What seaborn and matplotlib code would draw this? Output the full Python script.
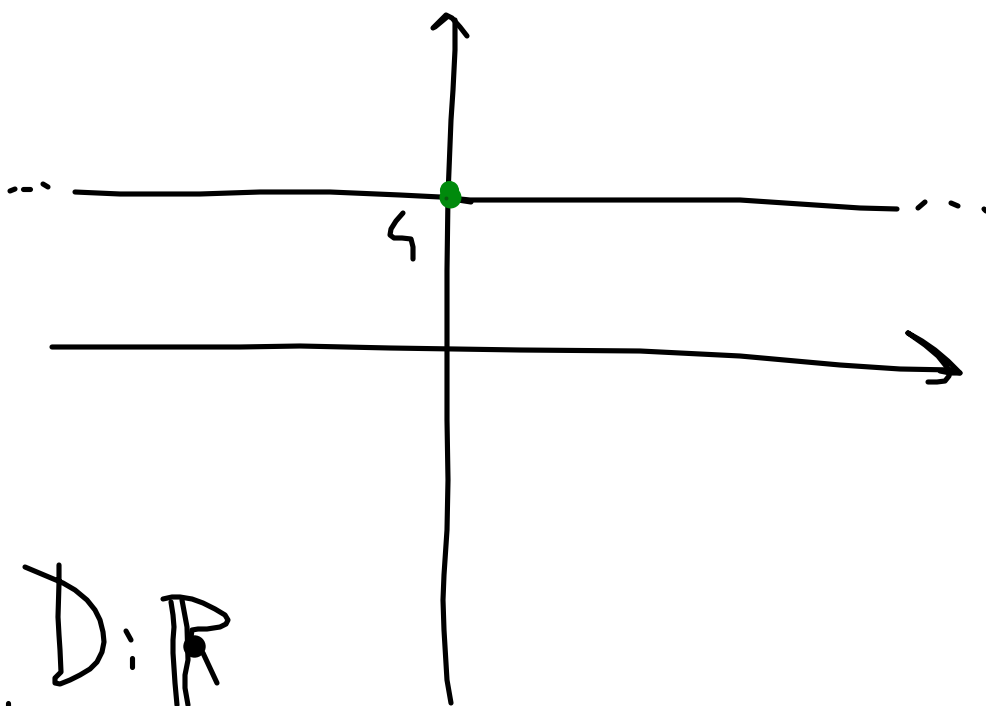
import matplotlib
matplotlib.use("Agg")
from matplotlib import pyplot as plt
import seaborn as sns

sns.set_theme(style="white")

# strokes, in picture coordinates
y_axis_x = [451, 447, 444, 443, 444, 447, 448, 447, 447, 447, 448, 451, 453, 455, 455]
y_axis_y = [703, 680, 630, 600, 575, 530, 480, 420, 350, 270, 195, 120, 90, 50, 20]
y_head_x = [433, 446, 452, 460, 467]
y_head_y = [28, 15, 18, 27, 36]
y_head_thick_x = [435, 447]
y_head_thick_y = [27, 17]

upper_x = [75, 120, 200, 260, 330, 400, 440, 470, 560, 740, 800, 860, 897]
upper_y = [192, 194, 194, 192, 192, 195, 197, 200, 200, 200, 204, 208, 209]
stub_x = [445, 458, 471]
stub_y = [197, 200, 202]

lower_x = [52, 150, 240, 300, 390, 520, 640, 740, 840, 900, 953]
lower_y = [347, 347, 347, 346, 348, 350, 351, 356, 365, 369, 370]
x_head_x = [908, 922, 935, 948, 960, 950, 938, 925, 908]
x_head_y = [333, 341, 350, 361, 373, 371, 356, 345, 333]
x_tail_x = [950, 949, 945, 937, 928]
x_tail_y = [370, 376, 381, 382, 382]
x_tail2_x = [940, 950, 960]
x_tail2_y = [371, 373, 373]

dots_left_x = [[10, 15], [23, 30], [43, 48]]
dots_left_y = [[191, 189], [189, 189], [184, 187]]
dots_right_x = [[918, 925], [951, 958], [984, 986]]
dots_right_y = [[208, 202], [203, 206], [209, 211]]

four_x = [403, 396, 391, 390, 394, 402, 411, 413, 413]
four_y = [213, 221, 229, 235, 238, 238, 239, 247, 259]

d_x = [59, 59, 58, 59, 60, 61, 55, 55, 60, 70, 80, 90, 97, 102, 104, 103, 100, 95, 87, 75, 63, 25]
d_y = [565, 583, 617, 635, 650, 672, 678, 683, 684, 680, 675, 669, 662, 652, 642, 632, 620, 610, 600, 590, 583, 567]
colon_x = [[126, 131], [132, 132]]
colon_y = [[631, 640], [658, 667]]

r_left_x = [171, 173, 174, 173, 173, 175, 177]
r_left_y = [602, 615, 627, 640, 653, 683, 705]
r_mid_x = [182, 187, 188, 185, 185, 188]
r_mid_y = [600, 627, 660, 675, 688, 705]
r_top_x = [163, 172, 180, 192, 203, 215, 225, 228, 226, 220, 207, 198, 192, 191]
r_top_y = [599, 597, 597, 599, 603, 609, 615, 620, 624, 627, 629, 629, 630, 637]
r_leg_x = [203, 217]
r_leg_y = [653, 683]
r_blob_x = [194]
r_blob_y = [646]

corner_x = [8, 8]
corner_y = [703, 706]

green_top_x = [449]
green_top_y = [190]
green_low_x = [449.5]
green_low_y = [196.5]
green_core_x = [446]
green_core_y = [198]

strokes = [
    (y_axis_x, y_axis_y), (y_head_x, y_head_y), (y_head_thick_x, y_head_thick_y),
    (upper_x, upper_y), (stub_x, stub_y),
    (lower_x, lower_y), (x_head_x, x_head_y), (x_tail_x, x_tail_y), (x_tail2_x, x_tail2_y),
    (four_x, four_y), (d_x, d_y),
    (r_left_x, r_left_y), (r_mid_x, r_mid_y), (r_top_x, r_top_y), (r_leg_x, r_leg_y),
    (corner_x, corner_y),
]
for xs, ys in zip(dots_left_x + dots_right_x + colon_x, dots_left_y + dots_right_y + colon_y):
    strokes.append((xs, ys))

fig = plt.figure(figsize=(9.86, 7.06), dpi=100)
ax = fig.add_axes([0, 0, 1, 1])

for xs, ys in strokes:
    sns.lineplot(x=xs, y=ys, ax=ax, color="black", linewidth=3.7, sort=False, estimator=None,
                 solid_capstyle="round", solid_joinstyle="round", legend=False)

sns.scatterplot(x=green_top_x, y=green_top_y, ax=ax, color="#008a0c", s=190, linewidth=0, zorder=5, legend=False)
sns.scatterplot(x=green_low_x, y=green_low_y, ax=ax, color="#008a0c", s=250, linewidth=0, zorder=5, legend=False)
sns.scatterplot(x=green_core_x, y=green_core_y, ax=ax, color="#0a5a10", s=8, linewidth=0, zorder=6, legend=False)
sns.scatterplot(x=r_blob_x, y=r_blob_y, ax=ax, color="black", s=260, linewidth=0, zorder=5, legend=False)

ax.set_xlim(0, 986)
ax.set_ylim(706, 0)
ax.axis("off")

fig.savefig("out.png", dpi=100, facecolor="white")
